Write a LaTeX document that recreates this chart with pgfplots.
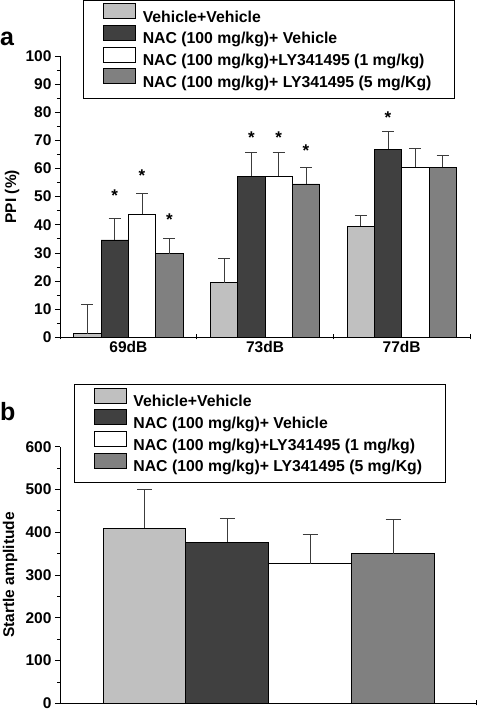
\documentclass[border=0pt]{standalone}
\usepackage{fontspec}
\setmainfont{Liberation Sans}
\usepackage{pgfplots}
\pgfplotsset{compat=1.18}
\definecolor{cLight}{RGB}{192,192,192}
\definecolor{cDark}{RGB}{64,64,64}
\definecolor{cMid}{RGB}{128,128,128}
\definecolor{cErr}{RGB}{60,60,60}
\pgfplotsset{
  mybar/.style={draw=black, line width=0.9pt, fill=#1,
    legend image code/.code={\draw[##1, overlay] (0pt,-2pt) rectangle (32pt,13pt); \path[draw=none, fill=none] (0pt,0pt) rectangle (32pt,0pt);}},
  common/.style={
    scale only axis, ybar=0pt,
    axis x line*=bottom, axis y line*=left,
    axis line style={line width=0.9pt, black},
    tick style={line width=0.8pt, black},
    tick align=outside, major tick length=5pt, minor tick length=3pt,
    minor y tick num=1,
    tick label style={font=\fontsize{15.5}{18}\selectfont\bfseries},
    /pgf/number format/assume math mode=true,
    error bars/y dir=plus, error bars/y explicit,
    error bars/error bar style={line width=0.8pt, cErr},
    legend cell align=left,
  },
  leg/.style={anchor=north west, draw=black, line width=0.8pt,
    font=\fontsize{15.8}{18}\selectfont\bfseries, inner xsep=20pt, inner ysep=5.5pt,
    column sep=4pt,
    nodes={inner xsep=3pt, inner ysep=0pt, outer sep=0pt, text height=16.35pt, text depth=5.35pt}},
}
\begin{document}
\begin{tikzpicture}
\path[use as bounding box] (0,0) rectangle (478pt,-712pt);
\node[anchor=base west, inner sep=0pt, font=\fontsize{25}{25}\selectfont\bfseries] at (0pt,-45pt) {a};
\node[anchor=base west, inner sep=0pt, font=\fontsize{25}{25}\selectfont\bfseries] at (0pt,-420pt) {b};
% ---------- panel a ----------
\begin{axis}[common,
  at={(60pt,-337.3pt)}, anchor=south west,
  width=410pt, height=281.3pt,
  bar width=0.2,
  xmin=-0.5, xmax=2.5, ymin=0, ymax=100,
  ytick={0,10,...,100},
  xtick={-0.5,0.5,1.5,2.5}, xticklabels={},
  xtick style={yshift=3pt},
  extra x ticks={0,1,2}, extra x tick labels={69dB,73dB,77dB},
  extra x tick style={major tick length=0pt},
  error bars/error mark options={rotate=90, mark size=6pt, line width=0.8pt, cErr},
  every axis y label/.style={at={(axis description cs:0,0.5)}, xshift=-48pt, rotate=90, anchor=center,
    font=\fontsize{15.5}{18}\selectfont\bfseries},
  ylabel={PPI (\%)},
  legend style={leg, at={(0.057,1.199)}},
]
\addplot[mybar=cLight] coordinates {(0,1.2) +- (0,10.5) (1,19.4) +- (0,8.7) (2,39.5) +- (0,3.9)};
\addplot[mybar=cDark] coordinates {(0,34.6) +- (0,7.7) (1,57.3) +- (0,8.3) (2,66.8) +- (0,6.5)};
\addplot[mybar=white] coordinates {(0,43.7) +- (0,7.5) (1,57.3) +- (0,8.3) (2,60.4) +- (0,6.8)};
\addplot[mybar=cMid] coordinates {(0,29.7) +- (0,5.6) (1,54.5) +- (0,5.8) (2,60.4) +- (0,4.4)};
\legend{Vehicle+Vehicle, NAC (100 mg/kg)+ Vehicle, NAC (100 mg/kg)+LY341495 (1 mg/kg), NAC (100 mg/kg)+ LY341495 (5 mg/Kg)}
\begin{scope}[every node/.style={font=\fontsize{17}{17}\selectfont\bfseries, inner sep=0pt}]
\node at (axis cs:-0.1,50.3) {*};
\node at (axis cs:0.1,57.4) {*};
\node at (axis cs:0.3,41.7) {*};
\node at (axis cs:0.9,70.8) {*};
\node at (axis cs:1.1,70.8) {*};
\node at (axis cs:1.3,66.2) {*};
\node at (axis cs:1.9,78.1) {*};
\end{scope}
\end{axis}
% ---------- panel b ----------
\begin{axis}[common,
  at={(60pt,-703.3pt)}, anchor=south west,
  width=416.7pt, height=256.6pt,
  bar width=1,
  xmin=-2.52, xmax=2.51, ymin=0, ymax=600,
  ytick={0,100,...,600},
  xtick={2.51}, xticklabels={},
  xtick style={yshift=3pt},
  error bars/error mark options={rotate=90, mark size=7.5pt, line width=0.8pt, cErr},
  every axis y label/.style={at={(axis description cs:0,0.5)}, xshift=-50pt, rotate=90, anchor=center,
    font=\fontsize{15.5}{18}\selectfont\bfseries},
  ylabel={Startle amplitude},
  legend style={leg, at={(0.0336,1.243)}},
]
\addplot[mybar=cLight] coordinates {(0,410) +- (0,90)};
\addplot[mybar=cDark] coordinates {(0,377) +- (0,56)};
\addplot[mybar=white] coordinates {(0,326) +- (0,69)};
\addplot[mybar=cMid] coordinates {(0,350) +- (0,79)};
\legend{Vehicle+Vehicle, NAC (100 mg/kg)+ Vehicle, NAC (100 mg/kg)+LY341495 (1 mg/kg), NAC (100 mg/kg)+ LY341495 (5 mg/Kg)}
\end{axis}
\end{tikzpicture}
\end{document}
